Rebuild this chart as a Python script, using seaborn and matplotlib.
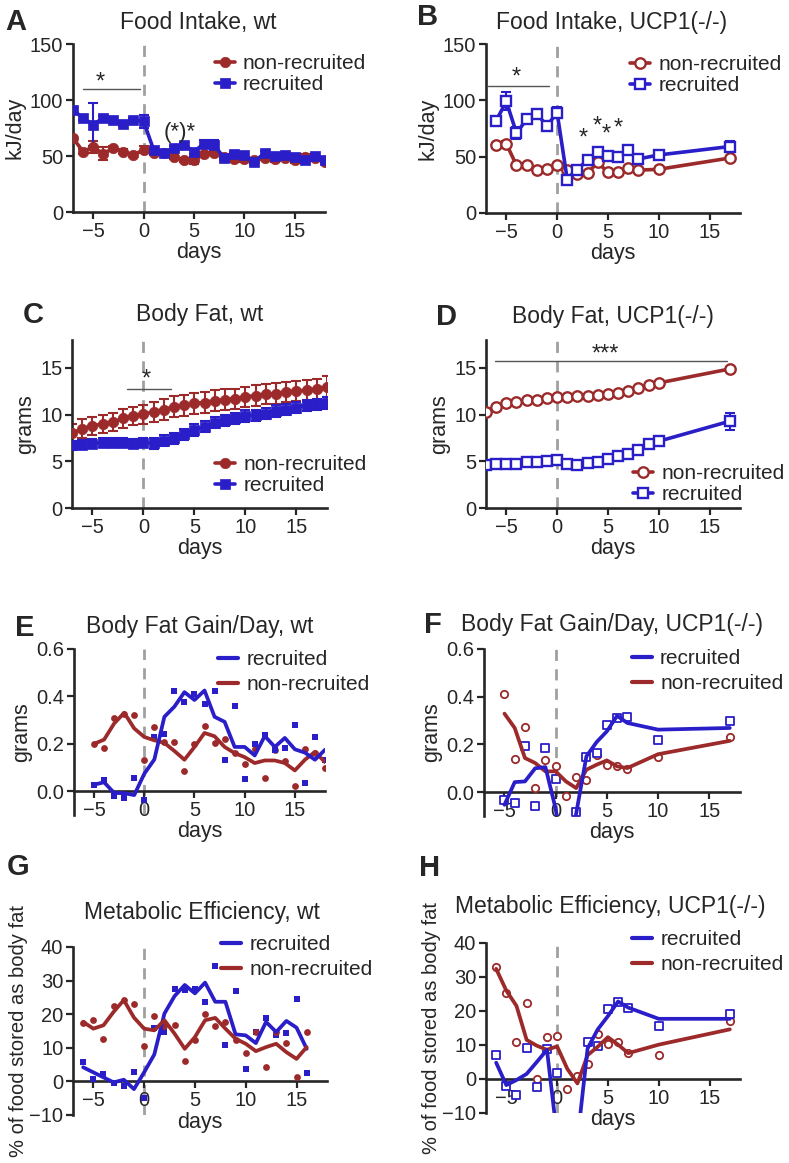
import numpy as np
import pandas as pd
import matplotlib.pyplot as plt
import seaborn as sns
from matplotlib.lines import Line2D

sns.set_style('ticks')
plt.rcParams['font.family'] = ['Liberation Sans', 'DejaVu Sans']

RED = '#9c2a2a'
BLUE = '#2a1ec8'
GRAY = '#a0a0a0'

# ---------------- data ----------------
days_wt = list(range(-7, 19))
days_ko = list(range(-6, 9)) + [10, 17]
days_ko_fat = list(range(-7, 11)) + [17]
days_gain_wt = list(range(-5, 19))
days_gain_ko = list(range(-5, 8)) + [10, 17]
days_eff_wt = list(range(-6, 17))
days_eff_ko = list(range(-6, 8)) + [10, 17]

# A: food intake, wt (kJ/day)
food_wt_non = [66, 54, 58, 52, 57, 54, 51, 55.5, 53, 52.5, 49, 46.5, 46, 52, 52.5,
               49.5, 47, 47, 46, 48, 47, 48, 46, 49.5, 48, 45]
food_wt_non_err = [2, 2, 5, 6, 2, 2, 2, 3, 2, 2, 2, 2, 3, 2, 2, 2, 2, 2, 2, 2, 2, 2, 2, 2, 2, 2]
food_wt_rec = [91, 84, 78, 84, 82, 79, 82, 81, 55.5, 52.5, 57, 60, 54, 61, 60,
               48, 52, 51, 45, 52.5, 50, 51, 49.5, 46, 50, 46.5]
food_wt_rec_err = [2, 2, 19, 2, 2, 2, 2, 6, 2, 2, 2, 2, 2, 3, 4, 2, 2, 2, 2, 2, 2, 2, 2, 2, 2, 2]

# B: food intake, UCP1(-/-)
food_ko_non = [60, 61.5, 42.3, 42.3, 37.9, 39, 42.3, 38.5, 34.6, 35.5, 45, 36, 36, 40, 38, 38.8, 48.8]
food_ko_non_err = [2, 2, 2, 2, 2, 2, 2, 2, 2, 2, 2, 2, 2, 2, 2, 2, 2]
food_ko_rec = [82, 99, 71, 83, 88, 77.5, 89, 29.6, 38.5, 47.3, 53.8, 51, 50, 55.6, 48, 51.5, 59]
food_ko_rec_err = [2, 8, 5, 2, 2, 2, 5, 2, 2, 2, 2, 2, 2, 2, 2, 2, 5]

# C: body fat, wt (grams)
fat_wt_non = [8.0, 8.5, 8.8, 9.0, 9.2, 9.6, 9.85, 10.05, 10.3, 10.55, 10.85, 11.0, 11.2,
              11.3, 11.5, 11.6, 11.7, 11.9, 12.05, 12.2, 12.25, 12.45, 12.55, 12.6, 12.7, 13.0]
fat_wt_non_err = [1.0] * 8 + [1.1] * 18
fat_wt_rec = [6.7, 6.8, 6.9, 7.0, 7.0, 7.0, 6.9, 7.0, 6.95, 7.2, 7.45, 7.9, 8.35, 8.7,
              9.15, 9.4, 9.6, 9.85, 9.95, 10.1, 10.4, 10.55, 10.75, 11.0, 11.1, 11.25]
fat_wt_rec_err = [0.5] * 8 + [0.6] * 18

# D: body fat, UCP1(-/-)
fat_ko_non = [10.25, 10.8, 11.2, 11.35, 11.6, 11.6, 11.8, 11.9, 11.9, 12.0, 12.0, 12.15,
              12.2, 12.3, 12.5, 12.85, 13.2, 13.4, 14.9]
fat_ko_non_err = [0.15] * 19
fat_ko_rec = [4.65, 4.75, 4.75, 4.75, 4.9, 4.9, 5.05, 5.1, 4.75, 4.65, 4.8, 4.9, 5.3,
              5.55, 5.8, 6.25, 6.9, 7.15, 9.3]
fat_ko_rec_err = [0.15] * 16 + [0.35, 0.35, 0.9]

# E: body fat gain/day, wt (raw points and smoothed line)
gain_wt_rec = [0.027, 0.048, -0.018, -0.03, 0.055, -0.035, 0.23, 0.24, 0.425, 0.375, 0.41, 0.37,
               0.423, 0.134, 0.36, 0.05, 0.2, 0.236, 0.175, 0.183, 0.28, 0.034, 0.23, 0.134]
gain_wt_rec_line = [0.028, 0.038, -0.007, -0.008, -0.016, 0.074, 0.134, 0.314, 0.357, 0.418,
                    0.385, 0.425, 0.314, 0.293, 0.187, 0.187, 0.151, 0.233, 0.187, 0.225,
                    0.177, 0.163, 0.133, 0.175]
gain_wt_non = [0.2, 0.184, 0.307, 0.328, 0.321, 0.133, 0.272, 0.208, 0.208, 0.085, 0.2, 0.276,
               0.204, 0.219, 0.161, 0.116, 0.18, 0.055, 0.175, 0.126, 0.021, 0.177, 0.161, 0.099]
gain_wt_non_line = [0.2, 0.218, 0.286, 0.331, 0.265, 0.229, 0.215, 0.204, 0.17, 0.133, 0.187,
                    0.246, 0.232, 0.187, 0.161, 0.144, 0.119, 0.13, 0.13, 0.119, 0.088, 0.133,
                    0.166, 0.123]

# F: body fat gain/day, UCP1(-/-)
gain_ko_non = [0.411, 0.14, 0.274, 0.017, 0.134, 0.11, -0.018, 0.063, 0.052, 0.154, 0.112,
               0.108, 0.097, 0.147, 0.231]
gain_ko_non_line = [0.329, 0.269, 0.143, 0.122, 0.087, 0.087, 0.045, 0.017, 0.094, 0.115,
                    0.133, 0.108, 0.101, 0.159, 0.215]
gain_ko_rec = [-0.032, -0.046, 0.194, -0.06, 0.185, 0.056, -0.3, -0.084, 0.147, 0.166, 0.28,
               0.31, 0.313, 0.217, 0.299]
gain_ko_rec_line = [-0.053, 0.042, 0.045, 0.1, 0.105, -0.07, -0.35, -0.09, 0.15, 0.21, 0.255,
                    0.32, 0.29, 0.262, 0.269]

# G: metabolic efficiency, wt (% of food stored as body fat)
eff_wt_rec = [5.9, 0.7, 2.2, -0.6, -1.3, 2.7, -4.8, 15.9, 14.7, 27.4, 27.2, 27.4, 23.7, 34.4,
              10.7, 27, 3.7, 14.8, 18.9, 13.7, 14.3, 24.5, 2.5]
eff_wt_rec_line = [4.2, 2.7, 1.2, -0.3, 0.5, -2.3, 2.7, 8, 20.2, 25.4, 28.7, 26.2, 29.4, 23.7,
                   23.7, 14, 13.7, 11.4, 17.7, 14.7, 18, 16, 9.7]
eff_wt_non = [17.4, 18.2, 12.7, 22.4, 24.2, 23, 10.4, 19.5, 16.4, 16.9, 6, 12.4, 20, 16.4,
              17.6, 12.2, 8.4, 14.6, 4.2, 14.6, 11.3, 1.2, 14.6]
eff_wt_non_line = [17.7, 15.7, 16.7, 20.7, 24.2, 19, 15.7, 15.2, 18.2, 14.2, 9.7, 13.2, 18.2,
                   18.9, 15.7, 12.7, 11.2, 9, 10.2, 11.2, 8.7, 6.7, 10.2]

# H: metabolic efficiency, UCP1(-/-)
eff_ko_non = [32.9, 25.4, 10.9, 22.5, 0, 12.4, 12.6, -2.8, 1, 4.5, 13.1, 10.3, 10.9, 7.6, 7.1, 17.2]
eff_ko_non_line = [32.4, 26, 21.5, 11.5, 9.8, 8.6, 9.6, 3, -1.3, 7, 9.5, 12.3, 10.1, 7.6, 10.1, 14.6]
eff_ko_rec = [7.1, -2, -4.7, 9.1, -2.3, 8.8, 1.8, -40, -25, 10.9, 9.8, 20.5, 22.7, 21, 15.5, 19.2]
eff_ko_rec_line = [4.8, -1.8, -0.3, 1.5, 5, 8.6, -17, -80, -18, 9, 14.6, 18.5, 22.8, 21, 17.7, 17.7]

LABELS_AD = ['non-recruited', 'recruited']
LABELS_EH = ['recruited', 'non-recruited']

# ---------------- layout ----------------
W, H = 789, 1163
fig = plt.figure(figsize=(W / 100, H / 100), dpi=100)


def px_axes(l, r, t, b):
    return fig.add_axes([l / W, 1 - b / H, (r - l) / W, (b - t) / H])


def style(ax, ylim, yticks, ylabel, zero_spine=False, fmt=None, ylsize=15.5, ylpad=3):
    ax.set_xlim(-7, 18)
    ax.set_ylim(*ylim)
    ax.set_xticks([-5, 0, 5, 10, 15])
    ax.set_yticks(yticks)
    if fmt:
        ax.set_yticklabels([fmt.format(v) for v in yticks])
    sns.despine(ax=ax)
    for s in ['left', 'bottom']:
        ax.spines[s].set_linewidth(1.9)
    if zero_spine:
        ax.spines['bottom'].set_position(('data', 0))
    ax.tick_params(direction='out', length=5, width=1.6, labelsize=14.5, pad=2)
    ax.set_xlabel('days', fontsize=15.5, labelpad=1)
    ax.set_ylabel(ylabel, fontsize=ylsize, labelpad=ylpad)
    ax.axvline(0, color=GRAY, ls=(0, (4, 3)), lw=2, zorder=0)


def mean_series(ax, x, y, err, color, marker, open_marker=False):
    ax.errorbar(x, y, yerr=err, fmt='none', ecolor=color, elinewidth=1.5,
                capsize=3.5, capthick=1.5, zorder=2)
    sns.lineplot(x=x, y=y, ax=ax, color=color, lw=2.6, marker=marker, ms=7.5,
                 mfc='white' if open_marker else color, mec=color,
                 mew=1.7 if open_marker else 0.5, zorder=3, legend=False, errorbar=None)


def raw_and_line(ax, x, raw, line, color, marker, open_marker=False):
    sns.scatterplot(x=x, y=raw, ax=ax, marker=marker, s=24 if not open_marker else 28,
                    color='white' if open_marker else color, edgecolor=color,
                    linewidth=1.3 if open_marker else 0, zorder=3, legend=False)
    sns.lineplot(x=x, y=line, ax=ax, color=color, lw=2.7, zorder=4,
                 legend=False, errorbar=None)


def legend(ax, handles, labels, x, y, sp):
    ax.legend(handles, labels, loc='upper left', bbox_to_anchor=(x, y), frameon=False,
              fontsize=15, borderpad=0, borderaxespad=0, handlelength=0.95,
              handletextpad=0.4, labelspacing=sp)


def mk(color, marker=None, open_marker=False):
    if marker is None:
        return Line2D([], [], color=color, lw=3)
    return Line2D([], [], color=color, lw=2.6, marker=marker, ms=7.5,
                  mfc='white' if open_marker else color, mec=color,
                  mew=1.7 if open_marker else 0.5)


def sig(ax, x0, x1, y, star, sx, sy, size=17):
    ax.plot([x0, x1], [y, y], color='#555555', lw=1)
    ax.text(sx, sy, star, ha='center', va='center', fontsize=size)


def header(x, y, letter, lx, ly, title):
    fig.text(lx / W, 1 - ly / H, letter, fontsize=21, fontweight='bold', ha='center', va='center')
    fig.text(x / W, 1 - y / H, title, fontsize=16.5, ha='center', va='center')


# A
ax = px_axes(73, 325, 44, 212)
style(ax, (0, 150), [0, 50, 100, 150], 'kJ/day')
mean_series(ax, days_wt, food_wt_non, food_wt_non_err, RED, 'o')
mean_series(ax, days_wt, food_wt_rec, food_wt_rec_err, BLUE, 's')
sig(ax, -6, -0.4, 110, '*', -4.3, 116)
ax.text(3.6, 71, '(*)*', ha='center', va='center', fontsize=16)
legend(ax, [mk(RED, 'o'), mk(BLUE, 's')], LABELS_AD, 0.563, 0.94, 0.1)
header(198, 23, 'A', 16, 22, 'Food Intake, wt')

# B
ax = px_axes(486, 740, 44, 213)
style(ax, (0, 150), [0, 50, 100, 150], 'kJ/day')
mean_series(ax, days_ko, food_ko_non, food_ko_non_err, RED, 'o', True)
mean_series(ax, days_ko, food_ko_rec, food_ko_rec_err, BLUE, 's', True)
sig(ax, -6.8, -0.8, 113, '*', -4, 120)
for sx, sy in [(2.6, 66), (3.9, 77), (4.8, 70), (6.0, 75)]:
    ax.text(sx, sy, '*', ha='center', va='center', fontsize=17)
legend(ax, [mk(RED, 'o', True), mk(BLUE, 's', True)], LABELS_AD, 0.567, 0.935, 0.1)
header(612, 23, 'B', 428, 17, 'Food Intake, UCP1(-/-)')

# C
ax = px_axes(72, 327, 340, 508)
style(ax, (0, 18), [0, 5, 10, 15], 'grams')
mean_series(ax, days_wt, fat_wt_non, fat_wt_non_err, RED, 'o')
mean_series(ax, days_wt, fat_wt_rec, fat_wt_rec_err, BLUE, 's')
sig(ax, -1.6, 2.7, 12.8, '*', 0.3, 13.8)
legend(ax, [mk(RED, 'o'), mk(BLUE, 's')], LABELS_AD, 0.561, 0.315, 0.1)
header(200, 315, 'C', 33, 315, 'Body Fat, wt')

# D
ax = px_axes(486, 740, 340, 508)
style(ax, (0, 18), [0, 5, 10, 15], 'grams')
mean_series(ax, days_ko_fat, fat_ko_non, fat_ko_non_err, RED, 'o', True)
mean_series(ax, days_ko_fat, fat_ko_rec, fat_ko_rec_err, BLUE, 's', True)
sig(ax, -6.1, 16.7, 15.8, '***', 4.7, 16.4)
legend(ax, [mk(RED, 'o', True), mk(BLUE, 's', True)], LABELS_AD, 0.579, 0.262, 0.1)
header(613, 317, 'D', 447, 317, 'Body Fat, UCP1(-/-)')

# E
ax = px_axes(74, 325, 649, 815)
style(ax, (-0.1, 0.6), [0, 0.2, 0.4, 0.6], 'grams', zero_spine=True, fmt='{:.1f}')
raw_and_line(ax, days_gain_wt, gain_wt_non, gain_wt_non_line, RED, 'o')
raw_and_line(ax, days_gain_wt, gain_wt_rec, gain_wt_rec_line, BLUE, 's')
legend(ax, [mk(BLUE), mk(RED)], LABELS_EH, 0.574, 0.994, 0.3)
header(200, 627, 'E', 25, 628, 'Body Fat Gain/Day, wt')

# F
ax = px_axes(484, 740, 649, 816)
style(ax, (-0.1, 0.6), [0, 0.2, 0.4, 0.6], 'grams', zero_spine=True, fmt='{:.1f}')
raw_and_line(ax, days_gain_ko, gain_ko_non, gain_ko_non_line, RED, 'o', True)
raw_and_line(ax, days_gain_ko, gain_ko_rec, gain_ko_rec_line, BLUE, 's', True)
legend(ax, [mk(BLUE), mk(RED)], LABELS_EH, 0.578, 1.0, 0.3)
header(612, 625, 'F', 433, 625, 'Body Fat Gain/Day, UCP1(-/-)')

# G
ax = px_axes(73, 327, 947, 1115)
style(ax, (-10, 40), [-10, 0, 10, 20, 30, 40], '% of food stored as body fat',
      zero_spine=True, ylsize=14.5, ylpad=1)
raw_and_line(ax, days_eff_wt, eff_wt_rec, eff_wt_rec_line, BLUE, 's')
raw_and_line(ax, days_eff_wt, eff_wt_non, eff_wt_non_line, RED, 'o')
legend(ax, [mk(BLUE), mk(RED)], LABELS_EH, 0.583, 1.071, 0.3)
header(202, 912, 'G', 18, 867, 'Metabolic Efficiency, wt')

# H
ax = px_axes(486, 740, 943, 1113)
style(ax, (-10, 40), [-10, 0, 10, 20, 30, 40], '% of food stored as body fat',
      zero_spine=True, ylsize=14.5, ylpad=1)
raw_and_line(ax, days_eff_ko, eff_ko_non, eff_ko_non_line, RED, 'o', True)
raw_and_line(ax, days_eff_ko, eff_ko_rec, eff_ko_rec_line, BLUE, 's', True)
legend(ax, [mk(BLUE), mk(RED)], LABELS_EH, 0.575, 1.076, 0.3)
header(610, 907, 'H', 430, 868, 'Metabolic Efficiency, UCP1(-/-)')

fig.savefig('out.png', dpi=100)
